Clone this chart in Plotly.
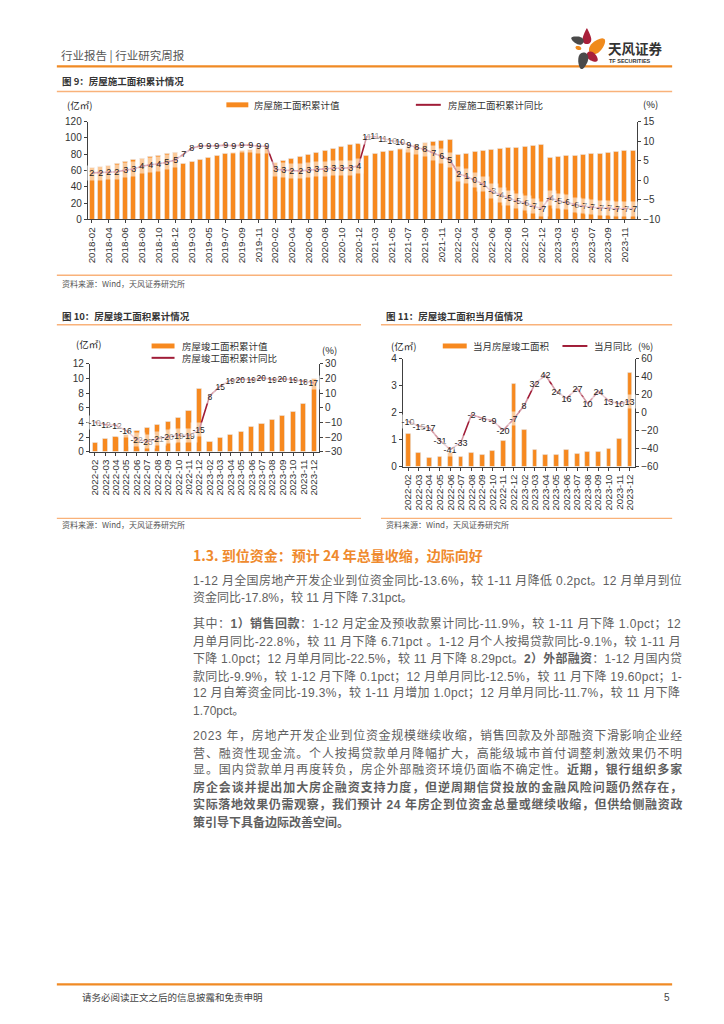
import math
import plotly.graph_objects as go

W, H = 724, 1024
def X(px): return px / W
def Y(py): return 1 - py / H

# ---------------- data ----------------
MONTHS = ["02", "03", "04", "05", "06", "07", "08", "09", "10", "11", "12"]
YEARS9 = ["2018", "2019", "2020", "2021", "2022", "2023"]
YEARS10 = ["2022", "2023"]
cats9 = [f"{y}-{m}" for y in YEARS9 for m in MONTHS]
ticks9 = cats9[::2]
cats10 = [f"{y}-{m}" for y in YEARS10 for m in MONTHS]

# 房屋施工面积累计值 (亿㎡)
area9 = [63.2, 64.9, 66.5, 69.0, 71.5, 73.2, 75.0, 77.0, 78.6, 81.0, 82.5,
         68.0, 70.5, 73.0, 75.4, 77.8, 80.2, 81.5, 84.0, 86.0, 88.0, 89.6,
         69.3, 72.6, 74.6, 77.0, 79.6, 82.4, 84.6, 86.3, 88.8, 91.2, 93.2,
         78.0, 80.3, 82.7, 84.7, 87.2, 89.3, 91.5, 94.0, 95.2, 96.6, 98.3,
         79.0, 81.0, 82.7, 84.0, 85.5, 86.3, 87.6, 88.4, 89.6, 90.4, 91.2,
         75.4, 77.0, 77.8, 78.6, 79.4, 80.3, 81.0, 82.3, 83.0, 83.9, 84.7]
# 房屋施工面积累计同比 (%)
yoy9 = [1.9, 2.0, 2.1, 2.2, 2.6, 2.9, 3.6, 4.0, 4.2, 4.6, 5.2,
        6.8, 8.2, 8.8, 8.8, 8.8, 9.0, 8.8, 9.0, 9.0, 8.7, 8.7,
        2.9, 2.6, 2.5, 2.4, 2.6, 2.8, 3.0, 3.1, 3.1, 3.2, 3.7,
        11.1, 11.2, 10.6, 10.1, 9.8, 9.0, 8.4, 7.9, 7.1, 6.1, 5.2,
        1.7, 1.0, 0.0, -1.0, -2.8, -3.7, -4.6, -5.3, -5.7, -6.6, -7.2,
        -4.4, -5.2, -5.6, -6.2, -6.6, -6.8, -7.1, -7.1, -7.3, -7.2, -7.2]

# 房屋竣工面积累计值 (亿㎡) / 累计同比 (%)
comp10 = [1.23, 1.75, 2.05, 2.35, 2.86, 3.21, 3.62, 4.07, 4.65, 5.57, 8.62,
          1.36, 1.94, 2.37, 2.78, 3.39, 3.84, 4.39, 4.87, 5.50, 6.53, 9.98]
yoy10 = [-9.8, -11.5, -11.9, -15.6, -21.5, -23.3, -21.1, -19.9, -18.7, -19.0, -15.0,
         8.0, 14.7, 18.8, 19.6, 19.0, 20.5, 19.2, 19.8, 19.0, 17.9, 17.0]

# 当月房屋竣工面积 (亿㎡) / 当月同比 (%)
comp11 = [1.23, 0.50, 0.31, 0.35, 0.51, 0.36, 0.50, 0.43, 0.59, 0.95, 3.08,
          1.35, 0.63, 0.44, 0.43, 0.62, 0.47, 0.55, 0.53, 0.66, 1.02, 3.47]
yoy11 = [-9.6, -15.0, -16.8, -30.8, -41.0, -33.0, -2.0, -6.3, -9.0, -19.6, -7.0,
         8.3, 32.0, 42.0, 24.0, 16.0, 27.0, 10.0, 24.0, 13.0, 10.0, 13.0]

ORANGE = "#F7891F"
RED = "#A01C37"
AX = "#404040"
CJK = "Noto Sans CJK SC"
NUM = "Arial, Liberation Sans"
BODY = "Liberation Sans, Noto Sans CJK SC"

fig = go.Figure()

# ---------------- traces ----------------
fig.add_trace(go.Bar(x=cats9, y=area9, marker_color=ORANGE, width=0.6,
                     xaxis="x", yaxis="y", name="房屋施工面积累计值"))
fig.add_trace(go.Scatter(x=cats9, y=yoy9, mode="lines", line=dict(color=RED, width=1.6),
                         xaxis="x", yaxis="y2", name="房屋施工面积累计同比"))
fig.add_trace(go.Bar(x=cats10, y=comp10, marker_color=ORANGE, width=0.5,
                     xaxis="x2", yaxis="y3", name="房屋竣工面积累计值"))
fig.add_trace(go.Scatter(x=cats10, y=yoy10, mode="lines", line=dict(color=RED, width=1.6),
                         xaxis="x2", yaxis="y4", name="房屋竣工面积累计同比"))
fig.add_trace(go.Bar(x=cats10, y=comp11, marker_color=ORANGE, width=0.45,
                     xaxis="x3", yaxis="y5", name="当月房屋竣工面积"))
fig.add_trace(go.Scatter(x=cats10, y=yoy11, mode="lines", line=dict(color=RED, width=1.6),
                         xaxis="x3", yaxis="y6", name="当月同比"))

# ---------------- axes ----------------
def xax(l, r, anchor, tickvals, n):
    return dict(domain=[X(l), X(r)], anchor=anchor, type="category",
                tickvals=tickvals, ticktext=tickvals, tickangle=-90,
                range=[-0.5, n - 0.5], showline=True, linecolor=AX, linewidth=1,
                ticks="outside", ticklen=3, tickcolor=AX, showgrid=False,
                tickfont=dict(family=NUM, size=9.8, color="#333"))

def yax(bottom, top, anchor, rng, dtick, side="left", overlaying=None):
    d = dict(anchor=anchor, range=rng, dtick=dtick, side=side, showline=True,
             linecolor=AX, linewidth=1, ticks="outside", ticklen=3, tickcolor=AX,
             showgrid=False, zeroline=False,
             tickfont=dict(family=NUM, size=10, color="#333"))
    if overlaying:
        d["overlaying"] = overlaying
    else:
        d["domain"] = [Y(bottom), Y(top)]
    return d

fig.update_layout(
    xaxis=xax(86, 637, "y", ticks9, len(cats9)),
    yaxis=yax(216, 117, "x", [0, 120], 20),
    yaxis2=yax(216, 117, "x", [-10, 15], 5, side="right", overlaying="y"),
    xaxis2=xax(88, 318, "y3", cats10, len(cats10)),
    yaxis3=yax(451, 362, "x2", [0, 12], 2),
    yaxis4=yax(451, 362, "x2", [-30, 30], 10, side="right", overlaying="y3"),
    xaxis3=xax(402, 635, "y5", cats10, len(cats10)),
    yaxis5=yax(466, 357, "x3", [0, 4], 1),
    yaxis6=yax(466, 357, "x3", [-60, 60], 20, side="right", overlaying="y5"),
)

ann = []
shapes = []

# ---------------- data labels with halo ----------------
def labels(cats, vals, xref, yref, size, pad):
    for c, v in zip(cats, vals):
        ann.append(dict(x=c, y=v, xref=xref, yref=yref, text=str(round(v)),
                        showarrow=False, font=dict(family=NUM, size=size, color="#222"),
                        bgcolor="rgba(255,255,255,0.55)", borderpad=pad))

labels(cats9, yoy9, "x", "y2", 9, 2.2)
labels(cats10, yoy10, "x2", "y4", 8.5, 1.5)
labels(cats10, yoy11, "x3", "y6", 9, 1.5)

# ---------------- page decoration helpers ----------------
def text(x, y, s, size, color="#333", family=CJK, xanchor="left", bold=False):
    ann.append(dict(x=X(x), y=Y(y), xref="paper", yref="paper", text=(f"<b>{s}</b>" if bold else s),
                    showarrow=False, xanchor=xanchor, yanchor="middle",
                    font=dict(family=family, size=size, color=color)))

def hline(x0, x1, y, color, w):
    shapes.append(dict(type="line", xref="paper", yref="paper", x0=X(x0), x1=X(x1),
                       y0=Y(y), y1=Y(y), line=dict(color=color, width=w)))

def rect(x0, x1, y0, y1, color):
    shapes.append(dict(type="rect", xref="paper", yref="paper", x0=X(x0), x1=X(x1),
                       y0=Y(y1), y1=Y(y0), line=dict(width=0), fillcolor=color))

def petal(cx, cy, L, Wd, ang, egg, color, n=40):
    a = math.radians(ang)
    pts = []
    for k in range(n):
        t = 2 * math.pi * k / n
        u = (L / 2) * math.cos(t)
        v = (Wd / 2) * math.sin(t) * (1 - egg * math.cos(t))
        px = cx + u * math.cos(a) - v * math.sin(a)
        py = cy + u * math.sin(a) + v * math.cos(a)
        pts.append(f"{X(px):.5f},{Y(py):.5f}")
    shapes.append(dict(type="path", xref="paper", yref="paper",
                       path="M " + " L ".join(pts) + " Z", fillcolor=color, line=dict(width=0)))

# header
text(57, 50, "行业报告 | 行业研究周报", 11.5, "#555")
hline(55, 672, 61, "#F08A24", 2.2)
petal(586.5, 30.5, 16, 7.5, -90, 0.7, "#A8203A")
petal(597, 40.5, 20, 11, -45, 0.2, "#F08A1C")
petal(577, 34.5, 13, 7.5, -160, 0.3, "#4A4A4A")
petal(578, 42.5, 6, 4, 20, 0.0, "#F08A1C")
petal(592, 51.5, 13, 8, 40, 0.2, "#A8203A")
petal(582.5, 55.5, 17, 9.5, 100, 0.3, "#4A4A4A")
text(606, 43, "天风证券", 13.5, "#333", bold=True)
text(607, 55.5, "TF SECURITIES", 5.5, "#333", family=NUM, bold=True)

# chart 9 frame
text(58, 76, "图 9：房屋施工面积累计情况", 9.5, "#333", bold=True)
hline(55, 672, 86.5, "#F9B27A", 1.4)
text(63, 100, "(亿㎡)", 9.5, "#222")
text(650, 99, "(%)", 9.5, "#222", xanchor="center")
rect(225, 247, 97.5, 102.5, ORANGE)
text(251, 100, "房屋施工面积累计值", 9.5, "#333")
hline(415, 440, 100, RED, 2)
text(445, 100, "房屋施工面积累计同比", 9.5, "#333")
hline(55, 672, 272.5, "#F9B27A", 1.4)
text(58, 281, "资料来源：Wind，天风证券研究所", 8, "#555")

# chart 10 frame
text(58, 314, "图 10：房屋竣工面积累计情况", 9.5, "#333", bold=True)
hline(55, 360, 322.5, "#F9B27A", 1.4)
text(72, 342, "(亿㎡)", 9.5, "#222")
text(328, 348, "(%)", 9.5, "#222", xanchor="center")
rect(150, 173, 341.5, 346.5, ORANGE)
text(178, 344, "房屋竣工面积累计值", 9.5, "#333")
hline(150, 173, 356, RED, 2)
text(178, 356, "房屋竣工面积累计同比", 9.5, "#333")
hline(55, 360, 518.5, "#F9B27A", 1.4)
text(58, 525, "资料来源：Wind，天风证券研究所", 8, "#555")

# chart 11 frame
text(383, 314, "图 11：房屋竣工面积当月值情况", 9.5, "#333", bold=True)
hline(380, 672, 322.5, "#F9B27A", 1.4)
text(388, 344, "(亿㎡)", 9.5, "#222")
text(645, 344, "(%)", 9.5, "#222", xanchor="center")
rect(442, 466, 341.5, 346.5, ORANGE)
text(470, 344, "当月房屋竣工面积", 9.5, "#333")
hline(562, 587, 344, RED, 2)
text(592, 344, "当月同比", 9.5, "#333")
hline(380, 672, 518.5, "#F9B27A", 1.4)
text(383, 525, "资料来源：Wind，天风证券研究所", 8, "#555")

# ---------------- section text (justified with letter-spacing) ----------------
text(190, 556, "1.3. 到位资金：预计 24 年总量收缩，边际向好", 14, "#EF8A2D", bold=True)

body = [
    (581, True, [("1-12 月全国房地产开发企业到位资金同比-13.6%，较 1-11 月降低 0.2pct。12 月单月到位", False)]),
    (599, False, [("资金同比-17.8%，较 11 月下降 7.31pct。", False)]),
    (625, True, [("其中：", False), ("1）销售回款", True), ("：1-12 月定金及预收款累计同比-11.9%，较 1-11 月下降 1.0pct；12", False)]),
    (643, True, [("月单月同比-22.8%，较 11 月下降 6.71pct 。1-12 月个人按揭贷款同比-9.1%，较 1-11 月", False)]),
    (660, True, [("下降 1.0pct；12 月单月同比-22.5%，较 11 月下降 8.29pct。", False), ("2）外部融资", True), ("：1-12 月国内贷", False)]),
    (678, True, [("款同比-9.9%，较 1-12 月下降 0.1pct；12 月单月同比-12.5%，较 11 月下降 19.60pct；1-", False)]),
    (695, True, [("12 月自筹资金同比-19.3%，较 1-11 月增加 1.0pct；12 月单月同比-11.7%，较 11 月下降", False)]),
    (713, False, [("1.70pct。", False)]),
    (738, True, [("2023 年，房地产开发企业到位资金规模继续收缩，销售回款及外部融资下滑影响企业经", False)]),
    (756, True, [("营、融资性现金流。个人按揭贷款单月降幅扩大，高能级城市首付调整刺激效果仍不明", False)]),
    (773, True, [("显。国内贷款单月再度转负，房企外部融资环境仍面临不确定性。", False), ("近期，银行组织多家", True)]),
    (791, True, [("房企会谈并提出加大房企融资支持力度，但逆周期信贷投放的金融风险问题仍然存在，", True)]),
    (808, True, [("实际落地效果仍需观察，我们预计 24 年房企到位资金总量或继续收缩，但供给侧融资政", True)]),
    (826, False, [("策引导下具备边际改善空间。", True)]),
]

FS = 12
LEFT, RIGHT = 190, 680
ASCII_W = {"0": .556, "1": .556, "2": .556, "3": .556, "4": .556, "5": .556, "6": .556,
           "7": .556, "8": .556, "9": .556, " ": .278, "-": .333, ".": .278, "%": .889,
           "p": .556, "c": .5, "t": .278}

def cwidth(ch, bold):
    if ord(ch) > 0x2E80:
        return FS
    w = ASCII_W.get(ch, .556)
    if bold and ch in "pct":
        w += .05
    return w * FS

for yy, justify, runs in body:
    html = "".join(f"<b>{s}</b>" if b else s for s, b in runs)
    if justify:
        chars = [(ch, b) for s, b in runs for ch in s]
        natural = sum(cwidth(c, b) for c, b in chars)
        ls = max(0.0, (RIGHT - LEFT - natural) / len(chars))
        html = f'<span style="letter-spacing:{ls:.3f}px">{html}</span>'
    ann.append(dict(x=X(LEFT), y=Y(yy), xref="paper", yref="paper", text=html,
                    showarrow=False, xanchor="left", yanchor="middle",
                    font=dict(family=BODY, size=FS, color="#5f5f5f")))

# footer
hline(55, 672, 990, "#F08A24", 2.2)
text(78, 1003, "请务必阅读正文之后的信息披露和免责申明", 9.5, "#444")
text(672, 1003, "5", 10, "#444", family=NUM, xanchor="right")

fig.update_layout(width=W, height=H, margin=dict(l=0, r=0, t=0, b=0),
                  paper_bgcolor="white", plot_bgcolor="white", showlegend=False,
                  annotations=ann, shapes=shapes, bargap=0)

fig.write_html("out.html", config={"displayModeBar": False},
               post_script="document.body.style.margin='0';document.body.style.overflow='hidden';")
